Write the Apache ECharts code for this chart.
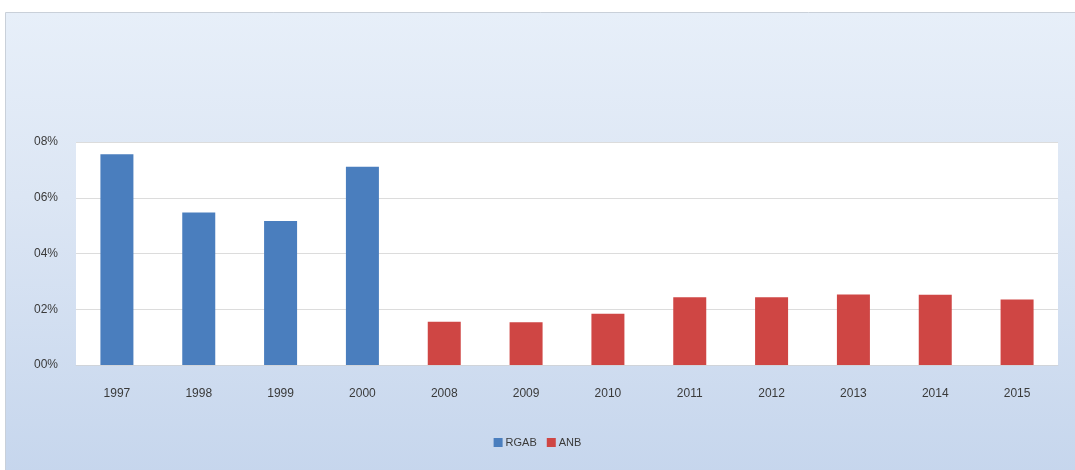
<!DOCTYPE html>
<html>
<head>
<meta charset="utf-8">
<script src="https://cdn.jsdelivr.net/npm/echarts@6/dist/echarts.min.js"></script>
<style>
  html, body { margin: 0; padding: 0; background: #ffffff; }
  #chart { width: 1075px; height: 470px; }
</style>
</head>
<body>
<div id="chart"></div>
<script>
// Years on the category axis
const years = ['1997', '1998', '1999', '2000', '2008', '2009', '2010', '2011', '2012', '2013', '2014', '2015'];
// RGAB values (percent), first four years only
const rgab = [7.56, 5.47, 5.17, 7.11, null, null, null, null, null, null, null, null];
// ANB values (percent), 2008 onward
const anb = [null, null, null, null, 1.55, 1.53, 1.84, 2.43, 2.43, 2.53, 2.52, 2.35];
// Value axis ticks
const yTicks = [0, 2, 4, 6, 8];

const fontFamily = "'Liberation Sans Narrow', 'Liberation Sans', Arial, sans-serif";
const chart = echarts.init(document.getElementById('chart'));

chart.setOption({
  animation: false,
  backgroundColor: '#ffffff',
  graphic: [{
    type: 'rect',
    z: -10,
    shape: { x: 5.5, y: 12.5, width: 1075, height: 460 },
    style: {
      fill: new echarts.graphic.LinearGradient(0, 0, 0, 1, [
        { offset: 0, color: '#e7eff9' },
        { offset: 0.4, color: '#dce6f4' },
        { offset: 1, color: '#c6d6ed' }
      ]),
      stroke: '#c9d0d9',
      lineWidth: 1
    }
  }],
  grid: {
    left: 76, right: 17, top: 142, bottom: 105,
    show: true, backgroundColor: '#ffffff', borderWidth: 0
  },
  legend: {
    left: 'center', top: 432,
    itemWidth: 9, itemHeight: 9, itemGap: 10,
    icon: 'rect',
    textStyle: { fontFamily, fontSize: 11, color: '#3a3a3a', padding: [0, 0, 0, -2] },
    data: ['RGAB', 'ANB']
  },
  xAxis: {
    type: 'category',
    data: years,
    axisTick: { show: false },
    axisLine: { show: true, lineStyle: { color: '#d0d4da' } },
    axisLabel: { margin: 23, fontFamily, fontSize: 12, color: '#3a3a3a' }
  },
  yAxis: {
    type: 'value',
    min: yTicks[0], max: yTicks[yTicks.length - 1], interval: 2,
    axisLine: { show: false },
    axisTick: { show: false },
    splitLine: { lineStyle: { color: '#dcdcdc' } },
    axisLabel: {
      margin: 18, fontFamily, fontSize: 12, color: '#3a3a3a',
      formatter: v => (v < 10 ? '0' : '') + v + '%'
    }
  },
  series: [
    {
      name: 'RGAB', type: 'bar', stack: 'all', barWidth: 33,
      data: rgab,
      itemStyle: { color: '#4a7ebe' }
    },
    {
      name: 'ANB', type: 'bar', stack: 'all', barWidth: 33,
      data: anb,
      itemStyle: { color: '#cf4644' }
    }
  ]
});
</script>
</body>
</html>
